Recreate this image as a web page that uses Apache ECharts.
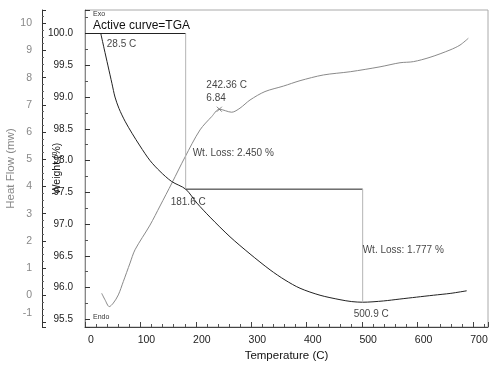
<!DOCTYPE html>
<html><head><meta charset="utf-8">
<script src="https://cdn.jsdelivr.net/npm/echarts@6/dist/echarts.min.js"></script>
<style>html,body{margin:0;padding:0;background:#fff}#c{width:500px;height:368px}</style>
</head><body><div id="c"></div>
<script>
// TGA curve (weight %, left inner axis)
const tgaTemp   = [28.5, 34.3, 41.5, 48.7, 54.1, 61.3, 72.2, 84.8, 99.2, 117.3, 135.3, 156.4, 181.6, 202, 225.5, 261.6, 297.7, 333.8, 360.8, 387.9, 424, 460, 481.2, 500.9, 538.2, 568, 598, 628.4, 660, 688.6];
const tgaWeight = [100.0, 99.77, 99.49, 99.21, 99.00, 98.82, 98.62, 98.43, 98.23, 98.00, 97.83, 97.67, 97.55, 97.33, 97.11, 96.80, 96.53, 96.28, 96.12, 95.99, 95.88, 95.81, 95.78, 95.77, 95.79, 95.82, 95.85, 95.88, 95.91, 95.95];
// Heat flow curve (mW, left outer axis)
const dscTemp = [30.1, 36.1, 43.8, 51.1, 60.1, 69.1, 81.2, 90.2, 117.3, 135.3, 156.9, 180.4, 207.5, 228.6, 242.36, 264.7, 279.6, 297.7, 324.7, 357.8, 387.9, 429.9, 478.6, 532.2, 568.3, 592.3, 622.4, 658.5, 676.5, 691.5];
const dscHeat = [0.07, -0.17, -0.42, -0.29, 0.01, 0.50, 1.18, 1.67, 2.58, 3.28, 4.13, 5.08, 6.08, 6.57, 6.84, 6.73, 6.88, 7.18, 7.49, 7.69, 7.89, 8.10, 8.22, 8.40, 8.55, 8.59, 8.75, 9.02, 9.20, 9.45];
// Step analysis (onset temps and weight levels)
const stepTemp   = [0, 181.6, 500.9];
const stepWeight = [100.0, 97.55, 95.77];
const onsetTemp = 28.5;
const peakTemp = 242.36, peakHeat = 6.84;
const wtLoss = ['2.450', '1.777'];
// Axis ticks
const xTicks = [0, 100, 200, 300, 400, 500, 600, 700];
const weightTicks = [95.5, 96.0, 96.5, 97.0, 97.5, 98.0, 98.5, 99.0, 99.5, 100.0];
const heatTicks = [-1, 0, 1, 2, 3, 4, 5, 6, 7, 8, 9, 10];

const FONT = "'Liberation Sans', Arial, sans-serif";
const zip = (a, b) => a.map((v, i) => [v, b[i]]);
const near = (v, arr) => arr.some(t => Math.abs(t - v) < 1e-6);

const annot = (name, yIndex, pt, text, off, extra) => ({
  type: 'scatter', name, yAxisIndex: yIndex, silent: true, symbolSize: 1,
  itemStyle: { color: 'rgba(0,0,0,0)' }, data: [pt], z: 10,
  label: Object.assign({ show: true, position: 'inside', offset: off, align: 'left', verticalAlign: 'middle',
    formatter: text, color: '#111', fontSize: 10, fontFamily: FONT, lineHeight: 13 }, extra || {})
});

const chart = echarts.init(document.getElementById('c'), null, { renderer: 'canvas' });
chart.setOption({
  animation: false,
  backgroundColor: '#fff',
  grid: { left: 85, right: 12, top: 10, bottom: 41, show: true, borderColor: '#aaa', borderWidth: 1,
    containLabel: false, outerBoundsMode: 'none' },
  xAxis: {
    type: 'value', min: 0, max: 727, interval: 100,
    axisLine: { onZero: false, lineStyle: { color: '#444' } },
    axisTick: { inside: true, length: 5, lineStyle: { color: '#444' } },
    minorTick: { show: true, splitNumber: 5, length: 3, lineStyle: { color: '#555' } },
    splitLine: { show: false }, minorSplitLine: { show: false },
    axisLabel: { formatter: v => near(v, xTicks) ? String(v) : '', margin: 8, padding: [0, 0, 0, 12],
      color: '#222', fontSize: 10.5, fontFamily: FONT },
    name: 'Temperature (C)', nameLocation: 'middle', nameGap: 23, nameMoveOverlap: false,
    nameTextStyle: { color: '#111', fontSize: 11.5, fontFamily: FONT }
  },
  yAxis: [{
    type: 'value', position: 'left', min: 95.38, max: 100.37, minInterval: 0.5, maxInterval: 0.5, splitNumber: 10,
    axisLine: { show: true, onZero: false, lineStyle: { color: '#888' } },
    axisTick: { show: true, inside: true, length: 5, lineStyle: { color: '#333' } },
    minorTick: { show: true, splitNumber: 2, length: 3, lineStyle: { color: '#555' } },
    splitLine: { show: false },
    axisLabel: { formatter: v => near(v, weightTicks) ? v.toFixed(1) : '', margin: 12, color: '#222', fontSize: 10, fontFamily: FONT },
    name: 'Weight (%)', nameLocation: 'middle', nameGap: 22, nameMoveOverlap: false,
    nameTextStyle: { color: '#111', fontSize: 10.5, fontFamily: FONT }
  }, {
    type: 'value', position: 'left', offset: 43, min: -1.17, max: 10.49, minInterval: 1, maxInterval: 1, splitNumber: 11,
    axisLine: { show: true, onZero: false, lineStyle: { color: '#333' } },
    axisTick: { show: true, inside: true, length: 4, lineStyle: { color: '#333' } },
    minorTick: { show: true, splitNumber: 4, length: 2, lineStyle: { color: '#666' } },
    splitLine: { show: false },
    axisLabel: {
      formatter: v => !near(v, heatTicks) ? '' : (v === heatTicks[0] ? '{up|' + v + '}' : String(v)),
      rich: { up: { padding: [0, 0, 18, 0], color: '#888', fontSize: 10.5, fontFamily: FONT } },
      margin: 10, color: '#888', fontSize: 10.5, fontFamily: FONT },
    name: 'Heat Flow (mw)', nameLocation: 'middle', nameGap: 25, nameMoveOverlap: false,
    nameTextStyle: { color: '#888', fontSize: 11.5, fontFamily: FONT }
  }],
  series: [
    { type: 'line', name: 'TGA', yAxisIndex: 0, data: zip(tgaTemp, tgaWeight), showSymbol: false, smooth: 0.3,
      lineStyle: { color: '#222', width: 1 }, silent: true, z: 3 },
    { type: 'line', name: 'Heat Flow', yAxisIndex: 1, data: zip(dscTemp, dscHeat), showSymbol: false, smooth: 0.3,
      lineStyle: { color: '#8a8a8a', width: 1 }, silent: true, z: 2 },
    // step analysis lines
    { type: 'line', yAxisIndex: 0, showSymbol: false, silent: true, lineStyle: { color: '#222', width: 1 },
      data: [[stepTemp[0], stepWeight[0]], [stepTemp[1], stepWeight[0]]] },
    { type: 'line', yAxisIndex: 0, showSymbol: false, silent: true, lineStyle: { color: '#b5b5b5', width: 1 },
      data: [[stepTemp[1], stepWeight[0]], [stepTemp[1], stepWeight[1]]] },
    { type: 'line', yAxisIndex: 0, showSymbol: false, silent: true, lineStyle: { color: '#222', width: 1 },
      data: [[stepTemp[1], stepWeight[1]], [stepTemp[2], stepWeight[1]]] },
    { type: 'line', yAxisIndex: 0, showSymbol: false, silent: true, lineStyle: { color: '#b5b5b5', width: 1 },
      data: [[stepTemp[2], stepWeight[1]], [stepTemp[2], stepWeight[2]]] },
    // peak marker
    { type: 'scatter', yAxisIndex: 1, silent: true, data: [[peakTemp, peakHeat]], symbol: 'path://M0,0L10,10M10,0L0,10', symbolSize: 5,
      itemStyle: { color: 'none', borderColor: '#666', borderWidth: 1 }, z: 5 },
    annot('a1', 0, [onsetTemp, stepWeight[0]], onsetTemp.toFixed(1) + ' C', [6, 11]),
    annot('a2', 1, [peakTemp, peakHeat], peakTemp + ' C\n' + peakHeat, [-13, -17]),
    annot('a3', 0, [stepTemp[1], stepWeight[1]], 'Wt. Loss: ' + wtLoss[0] + ' %', [7, -36]),
    annot('a4', 0, [stepTemp[1], stepWeight[1]], stepTemp[1].toFixed(1) + ' C', [-15, 13]),
    annot('a5', 0, [stepTemp[2], stepWeight[1]], 'Wt. Loss: ' + wtLoss[1] + ' %', [0, 61]),
    annot('a6', 0, [stepTemp[2], stepWeight[2]], stepTemp[2].toFixed(1) + ' C', [-9, 12])
  ],
  graphic: [
    { type: 'text', left: 93, top: 11, style: { text: 'Exo', font: '7px ' + FONT, fill: '#333' }, silent: true },
    { type: 'text', left: 93, top: 20, style: { text: 'Active curve=TGA', font: '12px ' + FONT, fill: '#111' }, silent: true },
    { type: 'text', left: 93, top: 314, style: { text: 'Endo', font: '7px ' + FONT, fill: '#333' }, silent: true }
  ]
});
</script>
</body></html>
